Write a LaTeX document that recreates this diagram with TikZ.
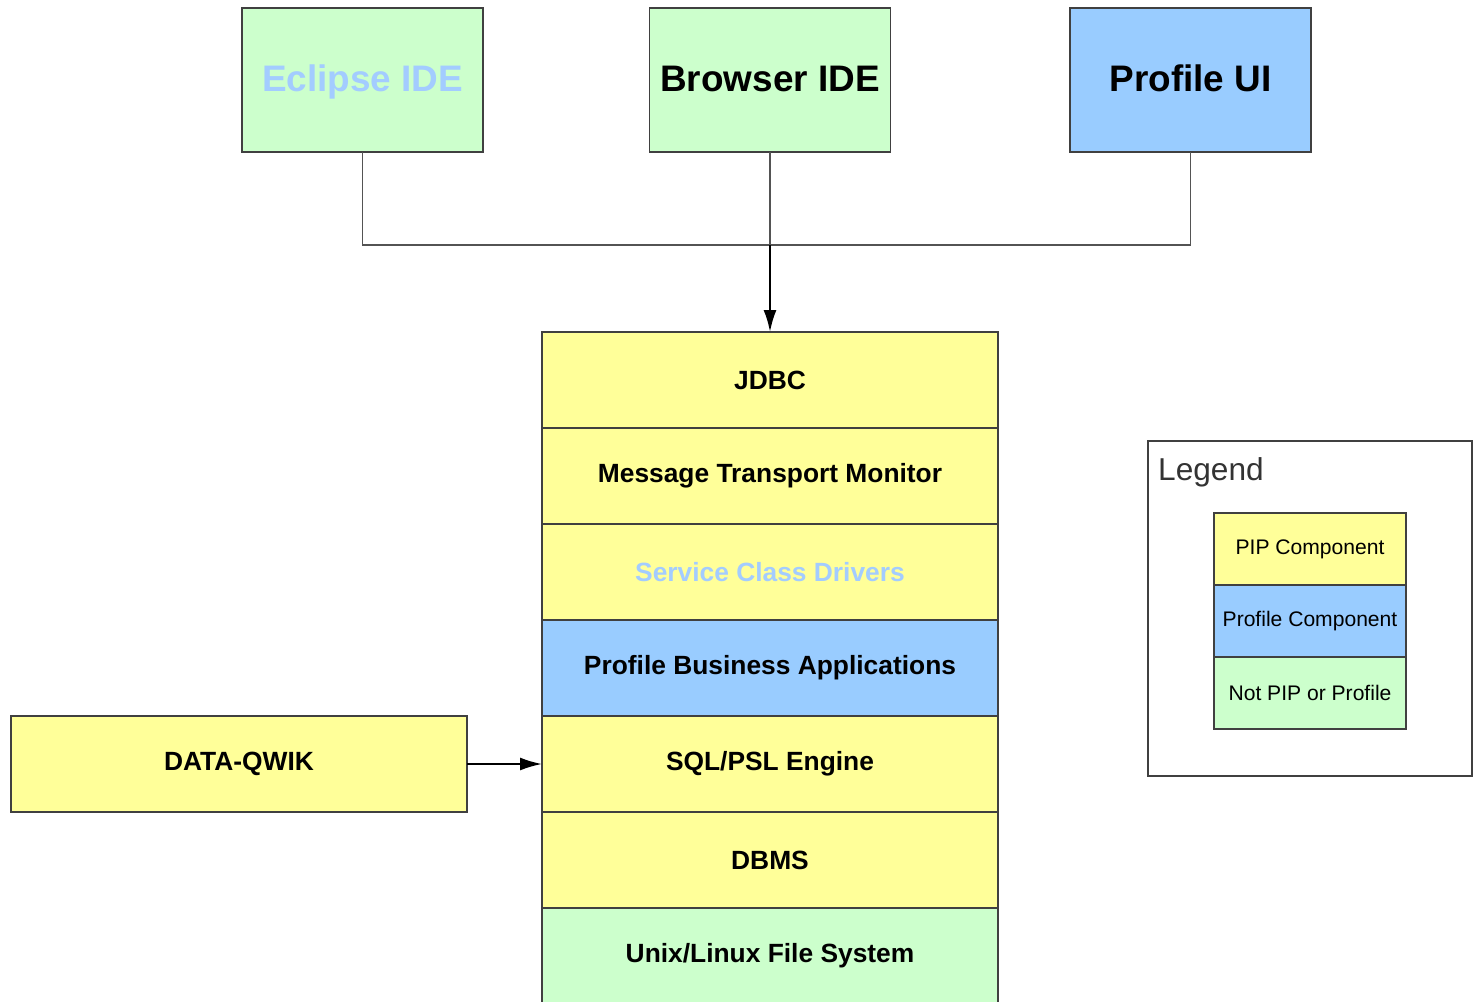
\documentclass[tikz,border=0pt]{standalone}
\usepackage{fontspec}
\setmainfont{Liberation Sans}
\usetikzlibrary{positioning,arrows.meta}
\definecolor{pipyellow}{HTML}{FFFF99}
\definecolor{profblue}{HTML}{99CCFF}
\definecolor{othgreen}{HTML}{CCFFCC}
\definecolor{lineclr}{HTML}{404040}
\definecolor{faintblue}{HTML}{A3CCFF}
\tikzset{
  box/.style={draw=lineclr,line width=1.1pt,outer sep=0pt,align=center},
  client/.style={box,fill=othgreen,minimum width=4.82cm,minimum height=2.88cm,text height=15pt,text depth=2.2pt,font=\bfseries\fontsize{21}{24}\selectfont},
  layer/.style={box,fill=pipyellow,minimum width=9.12cm,minimum height=1.92cm,font=\bfseries\fontsize{15}{18}\selectfont},
  keybox/.style={box,fill=pipyellow,minimum width=3.84cm,minimum height=1.44cm,font=\fontsize{12}{14}\selectfont},
  link/.style={draw=lineclr!90,line width=1.1pt},
}
\begin{document}
\begin{tikzpicture}[>={Latex[length=4.4mm,width=2.6mm]}]
  \useasboundingbox (0,0) rectangle (29.58,-20.02);
  % clients
  \node[client,text=faintblue] (eclipse) at (7.25,-1.6) {Eclipse IDE};
  \node[client] (browser) at (15.4,-1.6) {Browser IDE};
  \node[client,fill=profblue] (profui) at (23.81,-1.6) {Profile UI};
  \coordinate (bus) at (15.4,-4.9);

  % the stack
  \node[layer] (jdbc) at (15.4,-7.6) {JDBC};
  \node[layer,below=0pt of jdbc] (mtm) {Message Transport Monitor};
  \node[layer,below=0pt of mtm,text=faintblue] (scd) {Service Class Drivers};
  \node[layer,below=0pt of scd,fill=profblue] (pba) {Profile Business Applications};
  \node[layer,below=0pt of pba] (sqlpsl) {SQL/PSL Engine};
  \node[layer,below=0pt of sqlpsl] (dbms) {DBMS};
  \node[layer,below=0pt of dbms,fill=othgreen] (unixfs) {Unix/Linux File System};
  \node[layer,left=1.5cm of sqlpsl] (dq) {DATA-QWIK};

  \draw[link] (eclipse.south) |- (bus) -| (profui.south);
  \draw[link] (browser.south) -- (bus);
  \draw[->,line width=1.3pt] (bus) -- (jdbc.north);
  \draw[->,line width=1.1pt] (dq.east) -- (sqlpsl.west);

  % legend
  \node[box,minimum width=6.48cm,minimum height=6.7cm] (legend) at (26.2,-12.17) {};
  \node[anchor=west,text=black!80,font=\fontsize{18}{21}\selectfont] (legendttl) at (23.04,-9.44) {Legend};
  \node[keybox] (keypip) at (26.2,-10.98) {PIP Component};
  \node[keybox,below=0pt of keypip,fill=profblue] (keyprof) {Profile Component};
  \node[keybox,below=0pt of keyprof,fill=othgreen] (keynot) {Not PIP or Profile};
\end{tikzpicture}
\end{document}
